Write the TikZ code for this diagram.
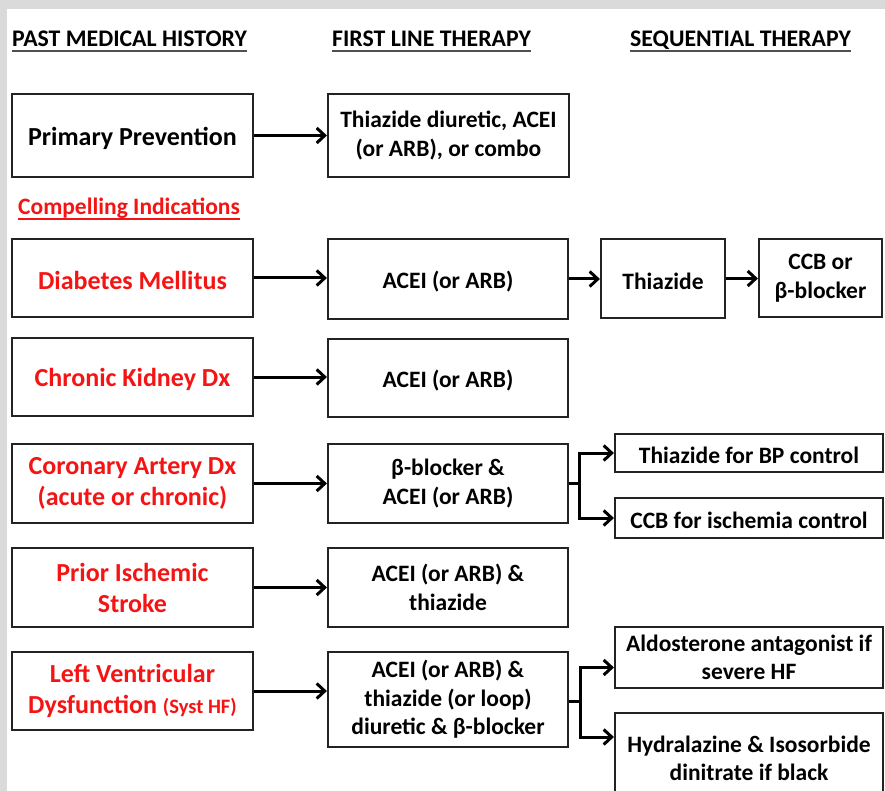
\documentclass[tikz,border=0pt]{standalone}
\usepackage{fontspec}
\setmainfont{Carlito}
\usetikzlibrary{arrows.meta,calc}
\definecolor{redtxt}{RGB}{245,20,20}
\definecolor{bggray}{RGB}{218,218,218}
\definecolor{boxline}{RGB}{35,35,35}
\definecolor{ulgray}{RGB}{80,80,80}
\newcommand\lowerby[1]{\raisebox{-2.5pt}[\height][\depth]{#1}}
\begin{document}
\begin{tikzpicture}[x=1pt,y=-1pt,
  box/.style={draw=boxline,line width=2.2pt,fill=white,inner sep=2pt,align=center,
    font=\bfseries\fontsize{23.5}{29.5}\selectfont},
  lbox/.style={box,text=redtxt,font=\bfseries\fontsize{26}{31}\selectfont},
  kbox/.style={box,font=\bfseries\fontsize{26}{31}\selectfont},
  hdr/.style={anchor=base west,inner sep=0pt,font=\bfseries\fontsize{23.8}{28}\selectfont},
  ul/.style={line width=2.4pt,draw=ulgray},
  conn/.style={line width=3pt,-{Straight Barb[length=8pt,width=15pt]}},
  plain/.style={line width=3pt}
]
\useasboundingbox (0,0) rectangle (885,791);
\clip (0,0) rectangle (885,791);
% background
\fill[bggray] (0,0) rectangle (885,791);
\fill[white] (7,9) rectangle (885,791);

% headers
\node[hdr] (h1) at (12,47) {PAST MEDICAL HISTORY};
\node[hdr] (h2) at (332,47) {FIRST LINE THERAPY};
\node[hdr] (h3) at (630,47) {SEQUENTIAL THERAPY};
\draw[ul] ($(h1.base west)+(0,4)$) -- ($(h1.base east)+(0,4)$);
\draw[ul] ($(h2.base west)+(0,4)$) -- ($(h2.base east)+(0,4)$);
\draw[ul] ($(h3.base west)+(0,4)$) -- ($(h3.base east)+(0,4)$);

\node[hdr,text=redtxt,font=\bfseries\fontsize{23.5}{28}\selectfont] (ci) at (18,215) {Compelling Indications};
\draw[ul,draw=redtxt,line width=1.8pt] ($(ci.base west)+(0,4)$) -- ($(ci.base east)+(0,4)$);

% row 1
\node[kbox,minimum width=241pt,minimum height=83pt] (pp) at (132.5,135.5) {\lowerby{Primary Prevention}};
\node[box,minimum width=241pt,minimum height=83pt] (t1) at (448.5,135.5) {Thiazide diuretic, ACEI\\(or ARB), or combo};

% diabetes
\node[lbox,minimum width=241pt,minimum height=78pt] (dm) at (132.5,278) {\lowerby{Diabetes Mellitus}};
\node[box,minimum width=240pt,minimum height=80pt] (d1) at (448,279) {\lowerby{ACEI (or ARB)}};
\node[box,minimum width=124pt,minimum height=79pt] (d2) at (663,278.5) {\lowerby{Thiazide}};
\node[box,minimum width=123pt,minimum height=78pt] (d3) at (820.5,278) {CCB or\\β-blocker};

% CKD
\node[lbox,minimum width=241pt,minimum height=78pt] (ck) at (132.5,377) {\lowerby{Chronic Kidney Dx}};
\node[box,minimum width=240pt,minimum height=78pt] (c1) at (448,378) {\lowerby{ACEI (or ARB)}};

% CAD
\node[lbox,minimum width=241pt,minimum height=79pt] (ca) at (132.5,483.5) {Coronary Artery Dx\\(acute or chronic)};
\node[box,minimum width=240pt,minimum height=79pt] (a1) at (448,483.5) {β-blocker \&\\ACEI (or ARB)};
\node[box,minimum width=268pt,minimum height=38pt] (a2) at (749,453) {\lowerby{Thiazide for BP control}};
\node[box,minimum width=268pt,minimum height=40pt] (a3) at (749,518) {\lowerby{CCB for ischemia control}};

% stroke
\node[lbox,minimum width=241pt,minimum height=79pt] (pi) at (132.5,587.5) {Prior Ischemic\\Stroke};
\node[box,minimum width=240pt,minimum height=79pt] (p1) at (448,587.5) {ACEI (or ARB) \&\\thiazide};

% LVD
\node[lbox,minimum width=241pt,minimum height=78pt] (lv) at (132.5,691) {Left Ventricular\\Dysfunction {\fontsize{20.5}{24}\selectfont (Syst HF)}};
\node[box,minimum width=240pt,minimum height=95pt,font=\bfseries\fontsize{23.5}{28.5}\selectfont] (l1) at (448,699.5) {ACEI (or ARB) \&\\thiazide (or loop)\\diuretic \& β-blocker};
\node[box,minimum width=268pt,minimum height=61pt,font=\bfseries\fontsize{23.5}{28}\selectfont] (l2) at (749,657.5) {Aldosterone antagonist if\\severe HF};
\node[box,minimum width=268pt,minimum height=91pt,font=\bfseries\fontsize{23.5}{28}\selectfont] (l3) at (749,758.5) {Hydralazine \& Isosorbide\\dinitrate if black};

% connectors
\draw[conn] (pp.east) -- (pp.east -| t1.west);
\draw[conn] (dm.east) -- (dm.east -| d1.west);
\draw[conn] (d1.east) -- (d1.east -| d2.west);
\draw[conn] (d2.east) -- (d2.east -| d3.west);
\draw[conn] (ck.east) -- (ck.east -| c1.west);
\draw[conn] (ca.east) -- (ca.east -| a1.west);
\draw[conn] (pi.east) -- (pi.east -| p1.west);
\draw[conn] (lv.east) -- (lv.east -| l1.west);

\coordinate (ja) at ($(a1.east)+(10,0)$);
\draw[plain] (a1.east) -- (ja);
\draw[conn] (ja) |- (a2.west);
\draw[conn] (ja) |- (a3.west);

\coordinate (jl) at ($(l1.east)+(11,1.5)$);
\coordinate (l2in) at ([yshift=-10pt]l2.west);
\coordinate (l3in) at ([yshift=21.5pt]l3.west);
\draw[plain] (l1.east |- jl) -- (jl);
\draw[conn] (jl) |- (l2in);
\draw[conn] (jl) |- (l3in);
\end{tikzpicture}
\end{document}
